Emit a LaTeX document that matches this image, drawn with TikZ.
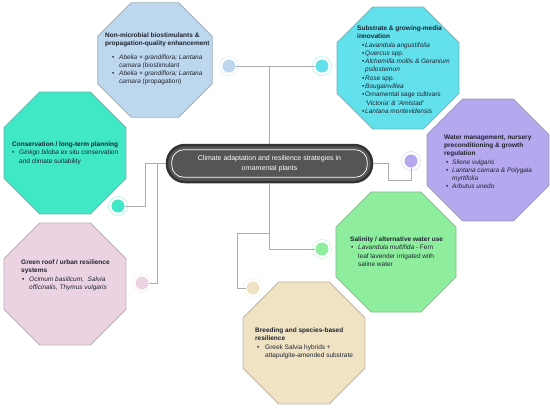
\documentclass[tikz,border=0pt]{standalone}
\usepackage{fontspec}
\setmainfont{Liberation Sans}
\usepackage{tikz}
\usetikzlibrary{calc, positioning, shapes.geometric}

\definecolor{cBlu}{HTML}{BDD7EE}
\definecolor{cCya}{HTML}{62E0EC}
\definecolor{cTea}{HTML}{40E8C8}
\definecolor{cLav}{HTML}{B6A8EE}
\definecolor{cGrn}{HTML}{8EEE9E}
\definecolor{cPnk}{HTML}{ECD3E2}
\definecolor{cBeg}{HTML}{EFE3C4}
\definecolor{ink}{HTML}{1F2430}
\definecolor{coreFill}{HTML}{555555}
\definecolor{coreLine}{HTML}{333333}

% bullet with indent and box width, and its continuation line
\newcommand{\bitem}[2]{\hspace*{#1}\makebox[#2][l]{\textbullet}}
\newcommand{\bcont}[2]{\hspace*{#1}\hspace*{#2}}

\begin{document}
\begin{tikzpicture}[x=1pt, y=-1pt,
    octa/.style={regular polygon, regular polygon sides=8, minimum size=132pt,
        inner sep=0pt, fill=#1, draw=#1!55!gray, line width=0.8pt},
    dot/.style={circle, inner sep=0pt, minimum size=13pt, fill=#1},
    link/.style={draw=gray!65, line width=0.9pt},
    txt/.style={font=\fontsize{6.5}{8.3}\selectfont, align=left, inner sep=0pt, text=ink}]
    \useasboundingbox (0,0) rectangle (550,408);

    % category octagons
    \node[octa=cBlu, minimum size=124pt] (blu) at (155,60) {};
    \node[octa=cCya] (cya) at (398,68) {};
    \node[octa=cTea] (tea) at (65,153) {};
    \node[octa=cLav] (lav) at (488,160) {};
    \node[octa=cGrn, minimum size=130pt] (grn) at (396,252) {};
    \node[octa=cPnk] (pnk) at (65,284) {};
    \node[octa=cBeg] (beg) at (304,343) {};

    % central topic
    \node[rectangle, rounded corners=18pt, minimum width=205pt, minimum height=37pt,
        fill=coreFill, draw=coreLine, line width=2.5pt, text=white, align=center,
        font=\fontsize{7}{9.5}\selectfont] (core) at (269.5,163.5)
        {Climate adaptation and resilience strategies in\\ornamental plants};
    \draw[white, line width=0.7pt, rounded corners=12pt]
        ($(core.north west)+(6,6)$) rectangle ($(core.south east)+(-6,-6)$);

    % connector dots
    \node[dot=cBlu] (bluDot) at (229,66) {};
    \node[dot=cCya] (cyaDot) at (322,66) {};
    \node[dot=cTea] (teaDot) at (118,206) {};
    \node[dot=cPnk] (pnkDot) at (142,283) {};
    \node[dot=cLav] (lavDot) at (411,161) {};
    \node[dot=cGrn] (grnDot) at (322,249) {};
    \node[dot=cBeg] (begDot) at (253,288) {};
    \foreach \d/\c in {bluDot/cBlu, cyaDot/cCya, teaDot/cTea, pnkDot/cPnk,
        lavDot/cLav, grnDot/cGrn, begDot/cBeg}
        \draw[\c!45, line width=0.6pt] (\d) circle[radius=9.5pt];

    % connectors
    \draw[link] (core.north) |- (bluDot);
    \draw[link] (core.north) |- (cyaDot);
    \draw[link] (core.west) -- ++(-20,0) |- (teaDot);
    \draw[link] (core.west) -- ++(-8,0) |- (pnkDot);
    \draw[link] (core.east) -- ++(15,0) -- ++(0,17) -| (lavDot);
    \draw[link] (core.south) |- (grnDot);
    \draw[link] (core.south) -- ++(0,50) -- ++(-32,0) |- (begDot);

    % texts
    \node[txt, anchor=north west] (bluTxt) at (105,32.5)
        {\textbf{Non-microbial biostimulants \&}\\
        \textbf{propagation-quality enhancement}\\[5pt]
        \bitem{7pt}{7pt}\textit{Abelia × grandiflora; Lantana}\\
        \bcont{7pt}{7pt}\textit{camara} (biostimulant\\
        \bitem{7pt}{7pt}\textit{Abelia × grandiflora; Lantana}\\
        \bcont{7pt}{7pt}\textit{camara} (propagation)};
    \node[txt, anchor=north west] (cyaTxt) at (357,25.5)
        {\textbf{Substrate \& growing-media}\\
        \textbf{innovation}\\
        \bitem{5pt}{3pt}\textit{Lavandula angustifolia}\\
        \bitem{5pt}{3pt}\textit{Quercus} spp.\\
        \bitem{5pt}{3pt}\textit{Alchemilla mollis \& Geranium}\\
        \bcont{5pt}{3pt}\textit{psilostemon}\\
        \bitem{5pt}{3pt}\textit{Rose} spp.\\
        \bitem{5pt}{3pt}\textit{Bougainvillea}\\
        \bitem{5pt}{3pt}Ornamental sage cultivars\\
        \bcont{5pt}{3pt}\textit{`Victoria' \& `Amistad'}\\
        \bitem{5pt}{3pt}\textit{Lantana montevidensis}};
    \node[txt, anchor=north west] (teaTxt) at (12,141.5)
        {\textbf{Conservation / long-term planning}\\
        \bitem{0pt}{7pt}\textit{Ginkgo biloba} ex situ conservation\\
        \bcont{0pt}{7pt}and climate suitability};
    \node[txt, anchor=north west] (lavTxt) at (444,134.5)
        {\textbf{Water management, nursery}\\
        \textbf{preconditioning \& growth}\\
        \textbf{regulation}\\
        \bitem{2pt}{6pt}\textit{Silene vulgaris}\\
        \bitem{2pt}{6pt}\textit{Lantana camara \& Polygala}\\
        \bcont{2pt}{6pt}\textit{myrtifolia}\\
        \bitem{2pt}{6pt}\textit{Arbutus unedo}};
    \node[txt, anchor=north west] (grnTxt) at (350,236.5)
        {\textbf{Salinity / alternative water use}\\
        \bitem{1pt}{7pt}\textit{Lavandula multifida} - Fern\\
        \bcont{1pt}{7pt}leaf lavender irrigated with\\
        \bcont{1pt}{7pt}saline water};
    \node[txt, anchor=north west] (pnkTxt) at (21,259.5)
        {\textbf{Green roof / urban resilience}\\
        \textbf{systems}\\
        \bitem{1pt}{7pt}\textit{Ocimum basilicum,\ \ Salvia}\\
        \bcont{1pt}{7pt}\textit{officinalis, Thymus vulgaris}};
    \node[txt, anchor=north west] (begTxt) at (255,327.5)
        {\textbf{Breeding and species-based}\\
        \textbf{resilience}\\
        \bitem{2pt}{8pt}Greek Salvia hybrids +\\
        \bcont{2pt}{8pt}attapulgite-amended substrate};
\end{tikzpicture}
\end{document}
